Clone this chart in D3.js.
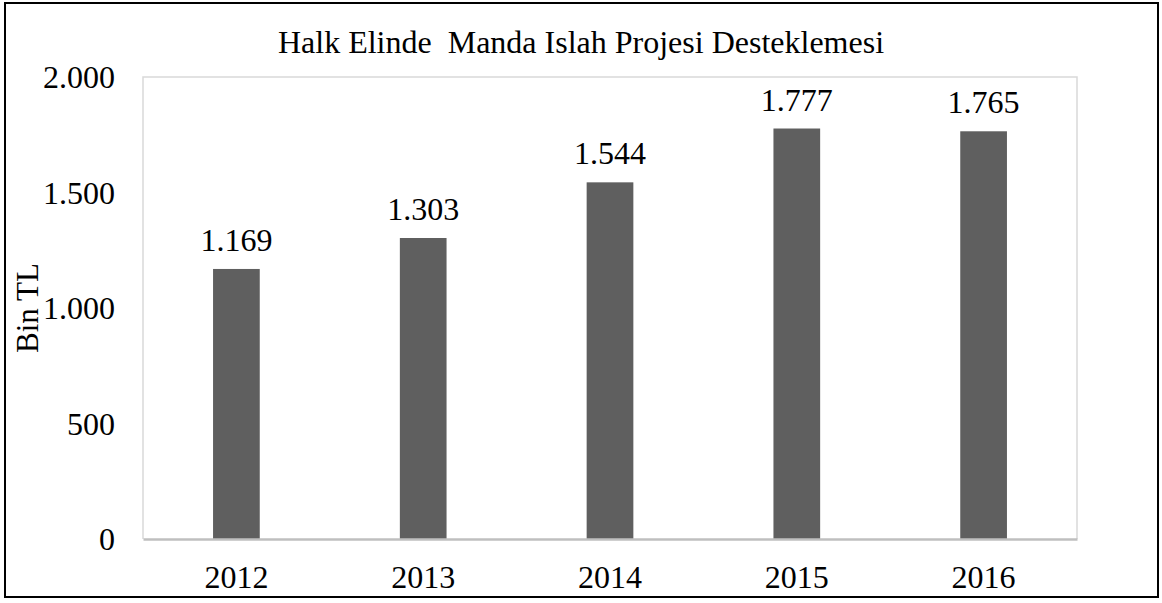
<!DOCTYPE html>
<html lang="tr">
  <head>
    <meta charset="utf-8">
    <title>Halk Elinde Manda Islah Projesi Desteklemesi</title>
    <script src="https://d3js.org/d3.v7.min.js"></script>
    <style>
      body { margin: 0; background: #fff; }
      text { font-family: "Liberation Serif", "Times New Roman", serif; fill: #000; }
    </style>
  </head>
  <body>
    <script>
      // veriler
      var years = ["2012", "2013", "2014", "2015", "2016"]
      var values = [1169, 1303, 1544, 1777, 1765]
      var yTicks = [0, 500, 1000, 1500, 2000]
      var title = "Halk Elinde  Manda Islah Projesi Desteklemesi"
      var yTitle = "Bin TL"

      var width = 1162
      var height = 603
      var plot = {left: 143, right: 1077, top: 77, bottom: 539}
      var fs = "32px"

      var tr = d3.formatLocale({decimal: ",", thousands: ".", grouping: [3], currency: ["", " TL"]})
      var fmt = tr.format(",d")

      var svg = d3.select("body")
        .append("svg")
          .attr("width", width)
          .attr("height", height)

      // dis cerceve
      svg.append("rect")
        .attr("x", 5).attr("y", 3)
        .attr("width", 1153).attr("height", 594)
        .attr("fill", "#fff")
        .attr("stroke", "#000")
        .attr("stroke-width", 2)

      var x = d3.scaleBand()
        .domain(years)
        .range([plot.left, plot.right])
        .paddingInner(0.75)
        .paddingOuter(0.375)

      var y = d3.scaleLinear()
        .domain([0, 2000])
        .range([plot.bottom, plot.top])

      // cizim alani cercevesi
      svg.append("path")
        .attr("d", "M" + plot.left + "," + plot.bottom + "V" + plot.top + "H" + plot.right + "V" + plot.bottom)
        .attr("fill", "none")
        .attr("stroke", "#d9d9d9")
        .attr("stroke-width", 1.5)

      svg.selectAll(".bar")
        .data(values)
        .enter()
        .append("rect")
          .attr("class", "bar")
          .attr("x", function(d, i) { return x(years[i]) })
          .attr("y", function(d) { return y(d) })
          .attr("width", x.bandwidth())
          .attr("height", function(d) { return y(0) - y(d) })
          .attr("fill", "#5f5f5f")

      // x ekseni
      var xAxis = svg.append("g")
        .attr("transform", "translate(0," + plot.bottom + ")")
        .call(d3.axisBottom(x).tickSize(0).tickPadding(0))
      xAxis.select(".domain").attr("stroke", "#bfbfbf").attr("stroke-width", 2.5)
      xAxis.selectAll("text")
        .attr("y", 49).attr("dy", null)
        .style("font-size", fs)
        .style("font-family", "'Liberation Serif', serif")
        .attr("fill", "#000")

      // y ekseni
      var yAxis = svg.append("g")
        .attr("transform", "translate(" + plot.left + ",0)")
        .call(d3.axisLeft(y).tickValues(yTicks).tickFormat(fmt).tickSize(0).tickPadding(28))
      yAxis.select(".domain").remove()
      yAxis.selectAll("text")
        .attr("dy", "0.34em")
        .style("font-size", fs)
        .style("font-family", "'Liberation Serif', serif")
        .attr("fill", "#000")

      // deger etiketleri
      svg.selectAll(".val")
        .data(values)
        .enter()
        .append("text")
          .attr("class", "val")
          .attr("x", function(d, i) { return x(years[i]) + x.bandwidth() / 2 })
          .attr("y", function(d) { return y(d) - 18 })
          .attr("text-anchor", "middle")
          .style("font-size", fs)
          .text(function(d) { return fmt(d) })

      svg.append("text")
        .attr("x", 581)
        .attr("y", 53)
        .attr("text-anchor", "middle")
        .style("font-size", "32px")
        .style("white-space", "pre")
        .text(title)

      svg.append("text")
        .attr("transform", "translate(38," + (plot.top + plot.bottom) / 2 + ") rotate(-90)")
        .attr("text-anchor", "middle")
        .style("font-size", "31px")
        .text(yTitle)
    </script>
  </body>
</html>
